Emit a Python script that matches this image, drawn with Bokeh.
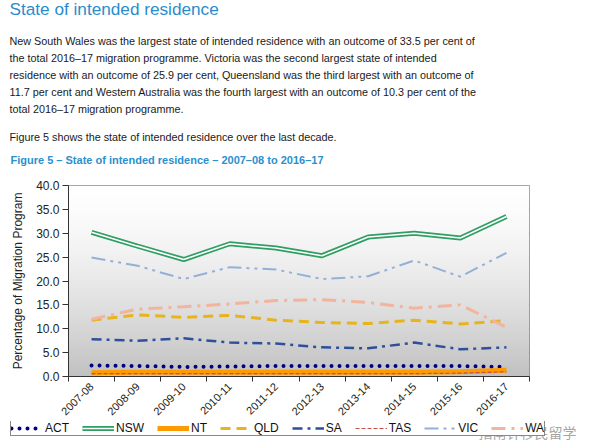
import numpy as np
from bokeh.plotting import figure
from bokeh.layouts import column
from bokeh.models import (Range1d, FixedTicker, NumeralTickFormatter, Label,
                          Legend, LegendItem)
from bokeh.embed import file_html
from bokeh.resources import INLINE

# ---------------- data ----------------
years = ["2007-08", "2008-09", "2009-10", "2010-11", "2011-12",
         "2012-13", "2013-14", "2014-15", "2015-16", "2016-17"]
act = [2.3, 2.2, 2.0, 2.1, 2.2, 2.2, 2.2, 2.2, 2.2, 2.0]
nsw = [30.2, 27.3, 24.5, 27.8, 26.9, 25.3, 29.2, 30.0, 29.0, 33.5]
nt = [0.8, 0.9, 0.9, 0.9, 0.9, 0.9, 0.9, 0.9, 1.0, 1.3]
qld = [11.8, 12.9, 12.4, 12.8, 11.8, 11.3, 11.1, 11.8, 11.0, 11.7]
sa = [7.8, 7.5, 8.0, 7.1, 6.9, 6.1, 5.9, 7.1, 5.7, 6.1]
tas = [0.6, 0.6, 0.6, 0.6, 0.6, 0.6, 0.6, 0.6, 0.7, 1.0]
vic = [24.9, 23.2, 20.4, 22.9, 22.4, 20.4, 21.0, 24.3, 20.9, 25.9]
wa = [12.0, 14.1, 14.6, 15.2, 15.9, 16.1, 15.5, 14.3, 15.0, 10.3]
y_ticks = [0, 5, 10, 15, 20, 25, 30, 35, 40]
series_names = ["ACT", "NSW", "NT", "QLD", "SA", "TAS", "VIC", "WA"]

title_text = "State of intended residence"
body_lines = [
    "New South Wales was the largest state of intended residence with an outcome of 33.5 per cent of",
    "the total 2016\u201317 migration programme. Victoria was the second largest state of intended",
    "residence with an outcome of 25.9 per cent, Queensland was the third largest with an outcome of",
    "11.7 per cent and Western Australia was the fourth largest with an outcome of 10.3 per cent of the",
    "total 2016\u201317 migration programme.",
]
fig_sentence = "Figure 5 shows the state of intended residence over the last decade."
caption = "Figure 5 \u2013 State of intended residence \u2013 2007\u201308 to 2016\u201317"
watermark = "指南针移民留学"

# ---------------- layout constants (page pixels) ----------------
W = 600
TOP_H = 177          # text block figure height
MAIN_H = 244         # chart figure height
LEG_H = 448 - TOP_H - MAIN_H
FL, FR = 68, 529     # frame left/right
YMAX = 40

# styles per series (shared by chart and legend)
styles = {
    "ACT": [dict(line_color="#000080", line_width=4, line_dash="0 8", line_cap="round")],
    "NSW": [dict(line_color="#2f9e62", line_width=5), dict(line_color="#ffffff", line_width=1.6)],
    "NT": [dict(line_color="#ff9a00", line_width=5)],
    "QLD": [dict(line_color="#e8b41c", line_width=3, line_dash="10 6")],
    "SA": [dict(line_color="#2f4f9c", line_width=2.5, line_dash="10 5 3 5")],
    "TAS": [dict(line_color="#c0504d", line_width=1.2, line_dash="4 2")],
    "VIC": [dict(line_color="#95b0d8", line_width=2, line_dash="14 5 3 5 3 5")],
    "WA": [dict(line_color="#f2b49c", line_width=3, line_dash="14 6 3 6")],
}
series_vals = {"ACT": act, "NSW": nsw, "NT": nt, "QLD": qld, "SA": sa,
               "TAS": tas, "VIC": vic, "WA": wa}


def no_align(fig):
    try:
        fig.frame_align = False
    except Exception:
        pass


def lab(fig, text, x, y, size, color, bold=False, font="Liberation Sans", alpha=1.0):
    # x: left end, y: vertical centre of the text (page-pixel data units)
    fig.add_layout(Label(x=x, y=y, text=text, text_font=font,
                         text_font_size=f"{size}px", text_color=color,
                         text_alpha=alpha,
                         text_font_style="bold" if bold else "normal",
                         text_baseline="middle", text_align="left"))


# ---------------- text block ----------------
pt = figure(width=W, height=TOP_H, output_backend="svg", toolbar_location=None,
            x_range=Range1d(0, W), y_range=Range1d(TOP_H, 0),
            x_axis_type=None, y_axis_type=None, min_border=0,
            background_fill_color="white", border_fill_color="white")
pt.outline_line_color = None
pt.grid.visible = False
no_align(pt)

lab(pt, title_text, 9, 8, 17.2, "#2a8ccc")
body_centres = [40.5, 57.2, 74.0, 91.2, 108.5]
for line, yc in zip(body_lines, body_centres):
    lab(pt, line, 9, yc, 10.8, "#1a1a1a")
lab(pt, fig_sentence, 9, 136.9, 10.8, "#1a1a1a")
lab(pt, caption, 10, 159.2, 11, "#2a90d0", bold=True)

# ---------------- chart ----------------
xs = [i + 0.5 for i in range(len(years))]
p = figure(width=W, height=MAIN_H, output_backend="svg", toolbar_location=None,
           x_range=Range1d(0, len(years)), y_range=Range1d(0, YMAX),
           min_border_left=FL, min_border_right=W - FR,
           min_border_top=8, min_border_bottom=45,
           background_fill_color="white", border_fill_color="white")
p.outline_line_color = "#8a8a8a"
p.outline_line_width = 1
no_align(p)

# background gradient of plot area (decoration)
n = 200
v = (np.arange(n) + 0.5) / n
g = (255 - 62 * (1 - v) ** 1.5).astype(np.uint8)
img = np.empty((n, 1), dtype=np.uint32)
view = img.view(dtype=np.uint8).reshape((n, 1, 4))
view[:, 0, 0] = g
view[:, 0, 1] = g
view[:, 0, 2] = g
view[:, 0, 3] = 255
p.image_rgba(image=[img], x=0, y=0, dw=len(years), dh=YMAX)

p.xaxis.ticker = FixedTicker(ticks=xs, minor_ticks=list(range(len(years) + 1)))
p.xaxis.major_label_overrides = {x: y for x, y in zip(xs, years)}
p.xaxis.major_label_orientation = np.pi / 4
p.xaxis.major_tick_line_color = None
p.xaxis.major_tick_out = 5
p.xaxis.major_tick_in = 0
p.xaxis.minor_tick_out = 5
p.xaxis.minor_tick_in = 0
p.xaxis.minor_tick_line_color = "#333333"
p.xaxis.axis_line_color = "#333333"
p.xaxis.major_label_text_font = "Liberation Sans"
p.xaxis.major_label_text_font_size = "11px"
p.xaxis.major_label_text_color = "#222222"
p.xaxis.major_label_standoff = 3

p.yaxis.ticker = FixedTicker(ticks=y_ticks, minor_ticks=[])
p.yaxis.formatter = NumeralTickFormatter(format="0.0")
p.yaxis.major_tick_out = 6
p.yaxis.major_tick_in = 0
p.yaxis.major_tick_line_color = "#333333"
p.yaxis.axis_line_color = "#333333"
p.yaxis.major_label_text_font = "Liberation Sans"
p.yaxis.major_label_text_font_size = "12px"
p.yaxis.major_label_text_color = "#222222"
p.yaxis.major_label_standoff = 3
p.yaxis.axis_label = "Percentage of Migration Program"
p.yaxis.axis_label_text_font = "Liberation Sans"
p.yaxis.axis_label_text_font_size = "12px"
p.yaxis.axis_label_text_font_style = "normal"
p.yaxis.axis_label_text_color = "#222222"
p.yaxis.axis_label_standoff = 8

p.xgrid.grid_line_color = None
p.ygrid.ticker = FixedTicker(ticks=y_ticks)
p.ygrid.grid_line_color = "#404040"
p.ygrid.grid_line_width = 1.5

for name in series_names:
    for st in styles[name]:
        p.line(xs, series_vals[name], **st)

# ---------------- legend strip ----------------
pl = figure(width=W, height=LEG_H, output_backend="svg", toolbar_location=None,
            x_range=Range1d(0, W), y_range=Range1d(LEG_H, 0),
            x_axis_type=None, y_axis_type=None, min_border=0,
            background_fill_color="white", border_fill_color="white")
pl.outline_line_color = None
pl.grid.visible = False
no_align(pl)
# the same series, drawn on a range that keeps them out of view: legend proxies
pl.extra_x_ranges = {"hidden": Range1d(1000, 2000)}

items = []
for name in series_names:
    rs = [pl.line(xs, series_vals[name], x_range_name="hidden", **st)
          for st in styles[name]]
    items.append(LegendItem(label=name, renderers=rs))

legend = Legend(items=items, orientation="horizontal", location=(10, LEG_H - 15))
legend.glyph_width = 32
legend.glyph_height = 12
legend.label_height = 12
legend.label_width = 10
legend.label_standoff = 2
legend.spacing = 13
legend.padding = 0
legend.margin = 0
legend.label_text_font = "Liberation Sans"
legend.label_text_font_size = "12px"
legend.label_text_color = "#111111"
legend.border_line_color = "#111111"
legend.border_line_width = 1
legend.background_fill_color = "white"
legend.background_fill_alpha = 1
pl.add_layout(legend)

lab(pl, watermark, 478, 10, 14, "#8c8c8c", font="Noto Sans CJK SC", alpha=0.8)

layout = column(pt, p, pl, spacing=0)
open("out.html", "w").write(file_html(layout, INLINE))
